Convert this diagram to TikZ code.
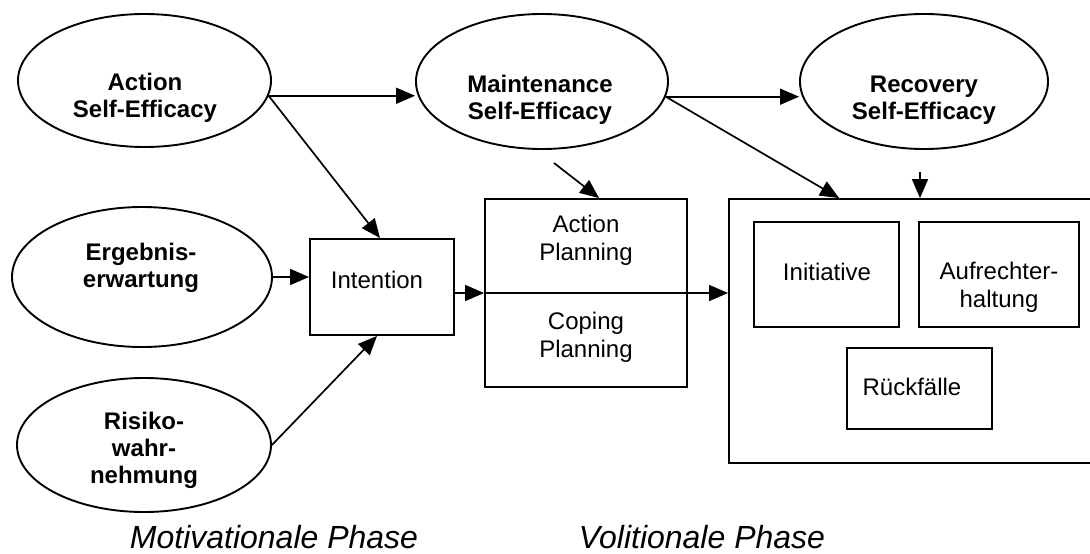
\documentclass[tikz,border=0pt]{standalone}
\usepackage{fontspec}
\setmainfont{Liberation Sans}
\usetikzlibrary{shapes.geometric,arrows.meta,calc}
\tikzset{
  ell/.style={draw, ellipse, line width=1.9pt, inner sep=0pt},
  box/.style={draw, rectangle, line width=1.9pt, inner sep=0pt},
  btxt/.style={font=\bfseries\fontsize{24}{27}\selectfont, align=center, inner sep=0pt, anchor=north},
  ntxt/.style={font=\fontsize{24}{27.5}\selectfont, align=center, inner sep=0pt, anchor=north},
  itxt/.style={font=\itshape\fontsize{32}{38}\selectfont, inner sep=0pt, anchor=base},
  arr/.style={line width=1.7pt, -{Triangle[length=19pt,width=16pt]}}
}
\begin{document}
\begin{tikzpicture}[x=1pt,y=-1pt]
\useasboundingbox (0,0) rectangle (1090,554);
\clip (0,0) rectangle (1090,554);
% ellipses
\node[ell, minimum width=253pt, minimum height=133pt] (ase) at (144.5,80.5) {};
\node[ell, minimum width=252pt, minimum height=135pt] (mse) at (542,81.5) {};
\node[ell, minimum width=248pt, minimum height=135pt] (rse) at (924,81.5) {};
\node[ell, minimum width=260pt, minimum height=140pt] (erg) at (142,277) {};
\node[ell, minimum width=254pt, minimum height=134pt] (ris) at (144,445) {};
\node[btxt] (aset) at (145,73) {Action\\Self-Efficacy};
\node[btxt] (mset) at (540,75) {Maintenance\\Self-Efficacy};
\node[btxt] (rset) at (924,76) {Recovery\\Self-Efficacy};
\node[btxt] (ergt) at (141,243) {Ergebnis-\\erwartung};
\node[btxt] (rist) at (144,412) {Risiko-\\wahr-\\nehmung};
% boxes
\node[box, minimum width=144pt, minimum height=96pt] (int) at (382,287) {};
\node[ntxt] (intt) at (377,271) {Intention};
\node[box, minimum width=202pt, minimum height=188pt] (plan) at (586,293) {};
\node[ntxt] (apt) at (586,215) {Action\\Planning};
\node[ntxt] (cpt) at (586,312) {Coping\\Planning};
\node[box, minimum width=391pt, minimum height=264pt] (big) at (924.5,331) {};
\node[box, minimum width=145pt, minimum height=105pt] (init) at (826.5,274.5) {};
\node[ntxt] (initt) at (827,263) {Initiative};
\node[box, minimum width=160pt, minimum height=105pt] (auf) at (999,274.5) {};
\node[ntxt] (auft) at (999,262) {Aufrechter-\\haltung};
\node[box, minimum width=145pt, minimum height=81pt] (rue) at (919.5,388.5) {};
\node[ntxt] (ruet) at (912,378) {Rückfälle};
% phase labels
\node[itxt] (mot) at (274,548) {Motivationale Phase};
\node[itxt] (vol) at (702,548) {Volitionale Phase};
% connectors
\coordinate (ms) at (554,163);
\coordinate (rs) at (920,172);
\draw[arr] (ase.-7) -- (ase.-7 -| mse.west);
\draw[arr] (ase.-7) -- ($(int.north)+(-2,0)$);
\draw[arr] (erg.east) -- (erg.east -| int.west);
\draw[arr] (ris.east) -- ($(int.south)+(-5,0)$);
\draw[arr] (int.east |- plan.west) -- (plan.west);
\draw[line width=1.9pt] (plan.west) -- (plan.east);
\draw[arr] (plan.east) -- (plan.east -| big.west);
\draw[arr] (mse.-7) -- (mse.-7 -| rse.west);
\draw[arr] (mse.-7) -- ($(big.north west)+(111,0)$);
\draw[arr] (ms) -- ($(plan.north west)+(115,0)$);
\draw[arr] (rs) -- (rs |- big.north);
\end{tikzpicture}
\end{document}
